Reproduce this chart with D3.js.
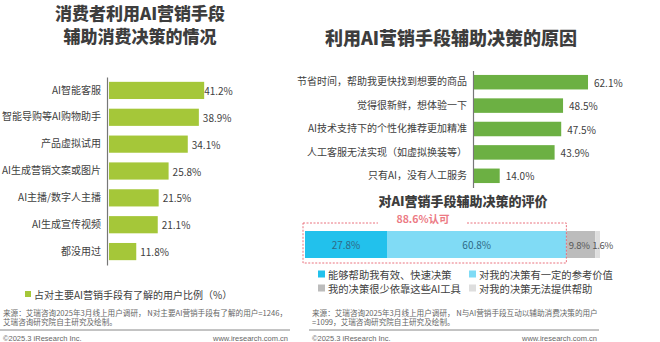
<!DOCTYPE html>
<html>
<head>
<meta charset="utf-8">
<script src="https://cdn.jsdelivr.net/npm/d3@7"></script>
<style>
  body { margin: 0; background: #fff; }
  svg { display: block; font-family: "Noto Sans CJK SC", "Noto Sans", sans-serif; }
</style>
</head>
<body>
<div class="plot"></div>
<script>
// left chart data
var usageCats = ["AI智能客服", "智能导购等AI购物助手", "产品虚拟试用", "AI生成营销文案或图片", "AI主播/数字人主播", "AI生成宣传视频", "都没用过"];
var usageVals = [41.2, 38.9, 34.1, 25.8, 21.5, 21.1, 11.8];

// right chart data
var reasonCats = ["节省时间，帮助我更快找到想要的商品", "觉得很新鲜，想体验一下", "AI技术支持下的个性化推荐更加精准", "人工客服无法实现（如虚拟换装等）", "只有AI，没有人工服务"];
var reasonVals = [62.1, 48.5, 47.5, 43.9, 14.0];

// evaluation stacked bar
var evalKeys = ["能够帮助我有效、快速决策", "对我的决策有一定的参考价值", "我的决策很少依靠这些AI工具", "对我的决策无法提供帮助"];
var evalVals = [27.8, 60.8, 9.8, 1.6];
var evalColors = ["#22c1ec", "#80dbf5", "#bcbcbc", "#dedede"];
var evalLabelColors = ["#2f6a87", "#2f6a87", "#555", "#555"];

var svgWidth = 660;
var svgHeight = 342;

var svg = d3.select(".plot")
    .append("svg")
    .attr("width", svgWidth)
    .attr("height", svgHeight);

var titleColor = "#3d3d3d";
var textColor = "#404040";

// ---------- left chart ----------
// two-line title as one text element
var leftTitle = svg.append("text")
    .attr("text-anchor", "middle")
    .attr("font-size", "17px").attr("font-weight", 900)
    .attr("fill", titleColor);
leftTitle.append("tspan").attr("x", 140).attr("y", 20).text("消费者利用AI营销手段");
leftTitle.append("tspan").attr("x", 140).attr("y", 42.5).text("辅助消费决策的情况");

var xLeft = d3.scaleLinear().domain([0, 100]).range([108, 339]);
var yLeft = d3.scaleBand().domain(usageCats).range([77, 265])
    .paddingInner(0.36).paddingOuter(0.18);

var leftAxis = svg.append("g")
    .attr("transform", "translate(107,0)")
    .call(d3.axisLeft(yLeft).tickSize(0).tickSizeOuter(0).tickPadding(6));
leftAxis.select(".domain").attr("stroke", "#777").attr("stroke-width", 1.2);
leftAxis.selectAll("text")
    .attr("font-size", "10px").attr("fill", textColor)
    .attr("font-family", "'Noto Sans CJK SC', sans-serif");

svg.append("g").selectAll("rect")
    .data(usageVals)
    .enter()
    .append("rect")
    .attr("x", xLeft(0) + 1)
    .attr("y", (d, i) => yLeft(usageCats[i]))
    .attr("width", d => xLeft(d) - xLeft(0))
    .attr("height", yLeft.bandwidth())
    .attr("fill", "#a5c739");

svg.append("g").selectAll("text")
    .data(usageVals)
    .enter()
    .append("text")
    .attr("x", (d, i) => xLeft(d) + (i == 0 ? 1 : 5))
    .attr("y", (d, i) => yLeft(usageCats[i]) + yLeft.bandwidth() / 2)
    .attr("dominant-baseline", "central")
    .attr("font-size", "10px").attr("fill", textColor)
    .text(d => d.toFixed(1) + "%");

// legend
svg.append("rect").attr("x", 25).attr("y", 291).attr("width", 6).attr("height", 6).attr("fill", "#a5c739");
svg.append("text")
    .attr("x", 34).attr("y", 294.5).attr("dominant-baseline", "central")
    .attr("font-size", "10px").attr("fill", textColor)
    .text("占对主要AI营销手段有了解的用户比例（%）");

// ---------- right chart ----------
svg.append("text")
    .attr("x", 451).attr("y", 37)
    .attr("text-anchor", "middle").attr("dominant-baseline", "central")
    .attr("font-size", "18px").attr("font-weight", 900)
    .attr("fill", titleColor)
    .text("利用AI营销手段辅助决策的原因");

var xRight = d3.scaleLinear().domain([0, 100]).range([473, 656.6]);
var yRight = d3.scaleBand().domain(reasonCats).range([70.5, 187.5])
    .paddingInner(0.38).paddingOuter(0.19);

var rightAxis = svg.append("g")
    .attr("transform", "translate(473,0)")
    .call(d3.axisLeft(yRight).tickSize(0).tickSizeOuter(0).tickPadding(6));
rightAxis.select(".domain").attr("stroke", "#777").attr("stroke-width", 1.2);
rightAxis.selectAll("text")
    .attr("font-size", "10px").attr("fill", textColor)
    .attr("font-family", "'Noto Sans CJK SC', sans-serif");

svg.append("g").selectAll("rect")
    .data(reasonVals)
    .enter()
    .append("rect")
    .attr("x", xRight(0) + 1)
    .attr("y", (d, i) => yRight(reasonCats[i]))
    .attr("width", d => xRight(d) - xRight(0))
    .attr("height", yRight.bandwidth())
    .attr("fill", "#6cb043");

svg.append("g").selectAll("text")
    .data(reasonVals)
    .enter()
    .append("text")
    .attr("x", d => xRight(d) + 7)
    .attr("y", (d, i) => yRight(reasonCats[i]) + yRight.bandwidth() / 2)
    .attr("dominant-baseline", "central")
    .attr("font-size", "10px").attr("fill", textColor)
    .text(d => d.toFixed(1) + "%");

// evaluation title
svg.append("text")
    .attr("x", 463).attr("y", 200)
    .attr("text-anchor", "middle").attr("dominant-baseline", "central")
    .attr("font-size", "13px").attr("font-weight", 900)
    .attr("fill", titleColor)
    .text("对AI营销手段辅助决策的评价");

var xEval = d3.scaleLinear().domain([0, 100]).range([305, 600]);
var row = {};
evalKeys.forEach((k, i) => row[k] = evalVals[i]);
var stacked = d3.stack().keys(evalKeys)([row]);

svg.append("g").selectAll("rect")
    .data(stacked)
    .enter()
    .append("rect")
    .attr("x", d => xEval(d[0][0]))
    .attr("y", 231)
    .attr("width", d => xEval(d[0][1]) - xEval(d[0][0]))
    .attr("height", 27)
    .attr("fill", (d, i) => evalColors[i]);

svg.append("g").selectAll("text")
    .data(stacked)
    .enter()
    .append("text")
    .attr("x", (d, i) => i < 2 ? (xEval(d[0][0]) + xEval(d[0][1])) / 2 : xEval(d[0][0]) + (i == 2 ? 2.5 : -3))
    .attr("y", 244.5)
    .attr("text-anchor", (d, i) => i < 2 ? "middle" : "start")
    .attr("dominant-baseline", "central")
    .attr("font-size", (d, i) => i < 2 ? "10px" : "9.5px")
    .attr("letter-spacing", (d, i) => i < 2 ? null : "-0.3px")
    .attr("fill", (d, i) => evalLabelColors[i])
    .text((d, i) => evalVals[i].toFixed(1) + "%");

// dashed "approval" box around first two segments
var approve = evalVals[0] + evalVals[1];
var boxL = xEval(0) - 2, boxR = xEval(approve), boxT = 223, boxB = 263;
var dashColor = "#e8626f";
var dashed = svg.append("g")
    .attr("fill", "none").attr("stroke", dashColor)
    .attr("stroke-width", 0.9).attr("stroke-dasharray", "2,1.5");
dashed.append("path").attr("d", `M${boxL},${boxT}H378`);
dashed.append("path").attr("d", `M467,${boxT}H${boxR}V${boxB}H${boxL}V${boxT}`);
svg.append("text")
    .attr("x", 423).attr("y", 218.5)
    .attr("text-anchor", "middle").attr("dominant-baseline", "central")
    .attr("font-size", "10.5px").attr("font-weight", 700)
    .attr("fill", "#ec7a84")
    .text(approve.toFixed(1) + "%认可");

// evaluation legend
var legendPos = [[318, 274], [469, 274], [318, 288], [469, 288]];
var lg = svg.append("g").selectAll("g")
    .data(evalKeys)
    .enter()
    .append("g")
    .attr("transform", (d, i) => `translate(${legendPos[i][0]},${legendPos[i][1]})`);
lg.append("rect").attr("x", 0).attr("y", -3.5).attr("width", 7).attr("height", 7)
    .attr("fill", (d, i) => evalColors[i]);
lg.append("text").attr("x", 10).attr("y", 0)
    .attr("dominant-baseline", "central")
    .attr("font-size", "10.3px").attr("fill", textColor)
    .text(d => d);

// ---------- footers ----------
function footer(x0, x1, lines) {
    var g = svg.append("g").attr("fill", "#666").attr("font-size", "7.6px");
    lines.forEach((t, i) => {
        g.append("text").attr("x", x0).attr("y", 312 + i * 9.5)
            .attr("dominant-baseline", "central").text(t);
    });
    svg.append("line")
        .attr("x1", x0 - 3).attr("x2", x1 + 2)
        .attr("y1", 330).attr("y2", 330)
        .attr("stroke", "#888").attr("stroke-width", 1);
    svg.append("text").attr("x", x0).attr("y", 338)
        .attr("dominant-baseline", "central")
        .attr("font-family", "'Liberation Sans', Arial, sans-serif")
        .attr("font-size", "7.5px").attr("fill", "#666")
        .text("©2025.3 iResearch Inc.");
    svg.append("text").attr("x", x1).attr("y", 338)
        .attr("text-anchor", "end").attr("dominant-baseline", "central")
        .attr("font-family", "'Liberation Sans', Arial, sans-serif")
        .attr("font-size", "7.5px").attr("fill", "#666")
        .text("www.iresearch.com.cn");
}

footer(3, 288, ["来源：艾瑞咨询2025年3月线上用户调研， N对主要AI营销手段有了解的用户=1246，", "艾瑞咨询研究院自主研究及绘制。"]);
footer(312, 597, ["来源：艾瑞咨询2025年3月线上用户调研， N与AI营销手段互动以辅助消费决策的用户", "=1099，艾瑞咨询研究院自主研究及绘制。"]);
</script>
</body>
</html>
